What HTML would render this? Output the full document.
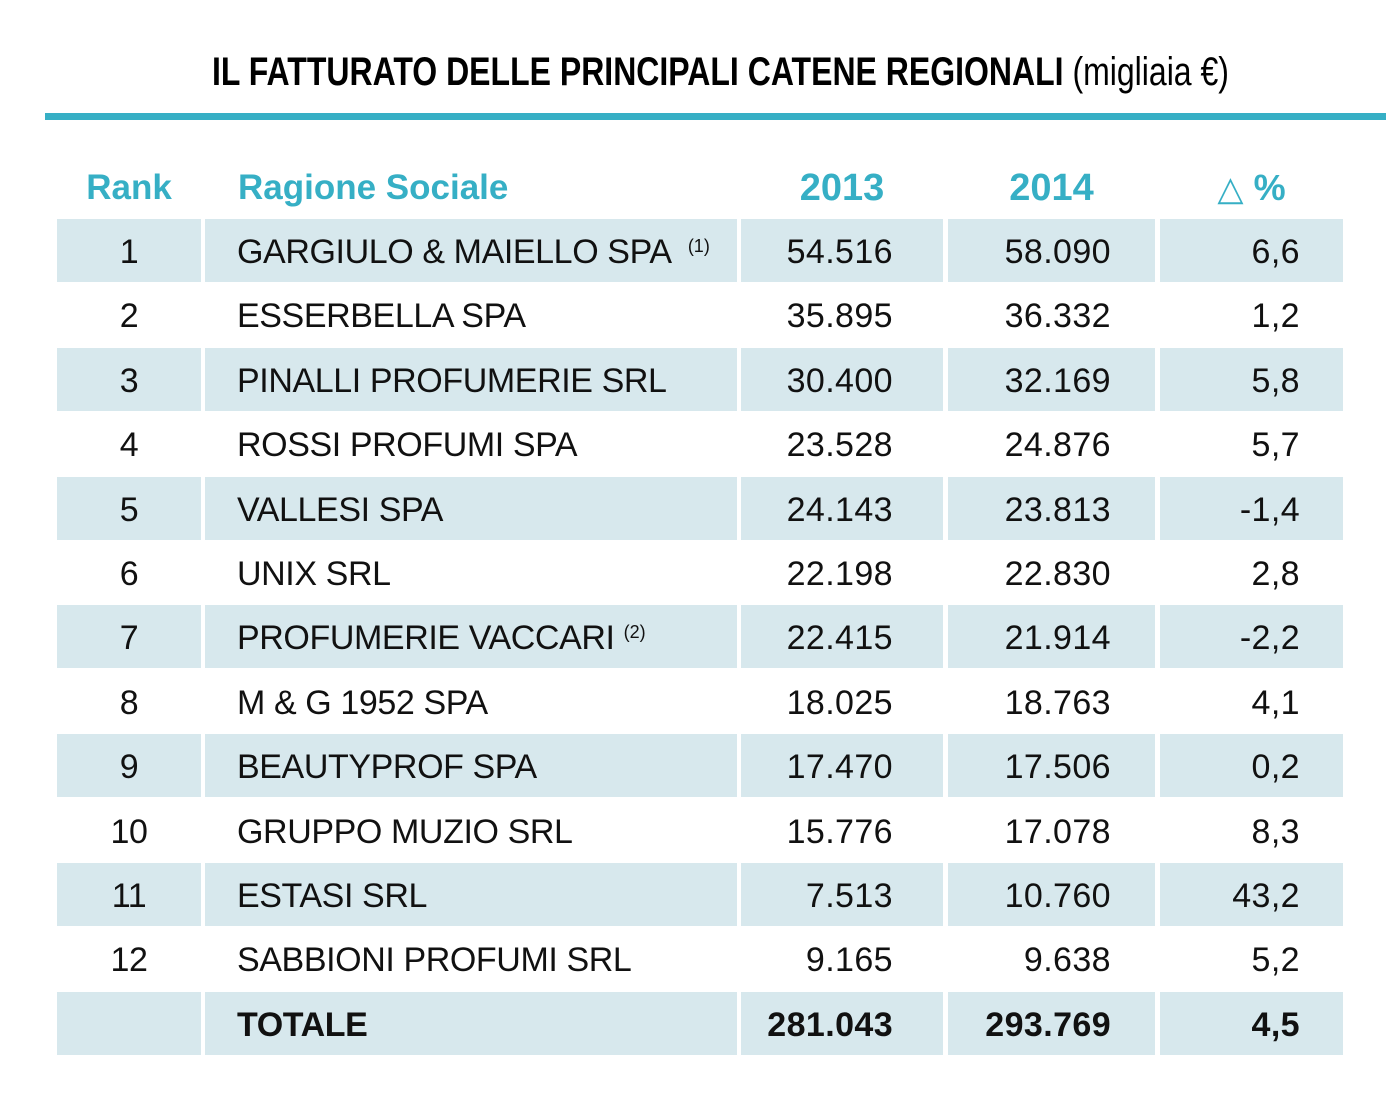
<!DOCTYPE html>
<html><head><meta charset="utf-8"><style>
body{margin:0;width:1386px;height:1109px;background:#fff;position:relative;overflow:hidden;font-family:"Liberation Sans",Arial,sans-serif;}
.title{position:absolute;left:212px;top:50px;font-size:40px;line-height:44px;white-space:nowrap;transform:scaleX(0.8);transform-origin:left top;color:#000;}
.title b{font-weight:bold;}
.line{position:absolute;left:45px;top:113px;width:1341px;height:7px;background:#36afc5;}
.h{position:absolute;top:168px;height:40px;line-height:40px;color:#36afc5;font-weight:bold;font-size:35px;white-space:nowrap;}
.c{position:absolute;height:63px;line-height:66px;font-size:34px;letter-spacing:-0.4px;color:#111;white-space:nowrap;box-sizing:border-box;}
.s{background:#d7e8ed;}
sup{font-size:18px;position:relative;top:-6px;vertical-align:top;letter-spacing:0;}
</style></head><body>
<div class="title"><b>IL FATTURATO DELLE PRINCIPALI CATENE REGIONALI</b> (migliaia €)</div>
<div class="line"></div>
<div class="h" style="left:57px;width:144px;text-align:center">Rank</div>
<div class="h" style="left:238px">Ragione Sociale</div>
<div class="h" style="left:741px;width:202px;text-align:center;font-size:38px">2013</div>
<div class="h" style="left:948px;width:207px;text-align:center;font-size:38px">2014</div>
<div class="h" style="left:1160px;width:183px;text-align:center;font-weight:normal;font-size:36px"><span style="font-size:34px">△</span> <b>%</b></div>
<div id="rows"></div>
<script>
var d=[["1","GARGIULO &amp; MAIELLO SPA &nbsp;<sup>(1)</sup>","54.516","58.090","6,6"],
["2","ESSERBELLA SPA","35.895","36.332","1,2"],
["3","PINALLI PROFUMERIE SRL","30.400","32.169","5,8"],
["4","ROSSI PROFUMI SPA","23.528","24.876","5,7"],
["5","VALLESI SPA","24.143","23.813","-1,4"],
["6","UNIX SRL","22.198","22.830","2,8"],
["7","PROFUMERIE VACCARI <sup>(2)</sup>","22.415","21.914","-2,2"],
["8","M &amp; G 1952 SPA","18.025","18.763","4,1"],
["9","BEAUTYPROF SPA","17.470","17.506","0,2"],
["10","GRUPPO MUZIO SRL","15.776","17.078","8,3"],
["11","ESTASI SRL","7.513","10.760","43,2"],
["12","SABBIONI PROFUMI SRL","9.165","9.638","5,2"],
["","<b>TOTALE</b>","<b>281.043</b>","<b>293.769</b>","<b>4,5</b>"]];
var h="";
for(var i=0;i<d.length;i++){
 var t=219+i*64.4, s=(i%2==0)?" s":"";
 var r=d[i];
 h+='<div class="c'+s+'" style="top:'+t+'px;left:57px;width:144px;text-align:center">'+r[0]+'</div>';
 h+='<div class="c'+s+'" style="top:'+t+'px;left:205px;width:532px;padding-left:32px">'+r[1]+'</div>';
 h+='<div class="c'+s+'" style="top:'+t+'px;left:741px;width:202px;text-align:right;padding-right:50px;letter-spacing:0.4px">'+r[2]+'</div>';
 h+='<div class="c'+s+'" style="top:'+t+'px;left:948px;width:207px;text-align:right;padding-right:44px;letter-spacing:0.4px">'+r[3]+'</div>';
 h+='<div class="c'+s+'" style="top:'+t+'px;left:1160px;width:183px;text-align:right;padding-right:43px;letter-spacing:0.4px">'+r[4]+'</div>';
}
document.getElementById("rows").innerHTML=h;
</script>
</body></html>
